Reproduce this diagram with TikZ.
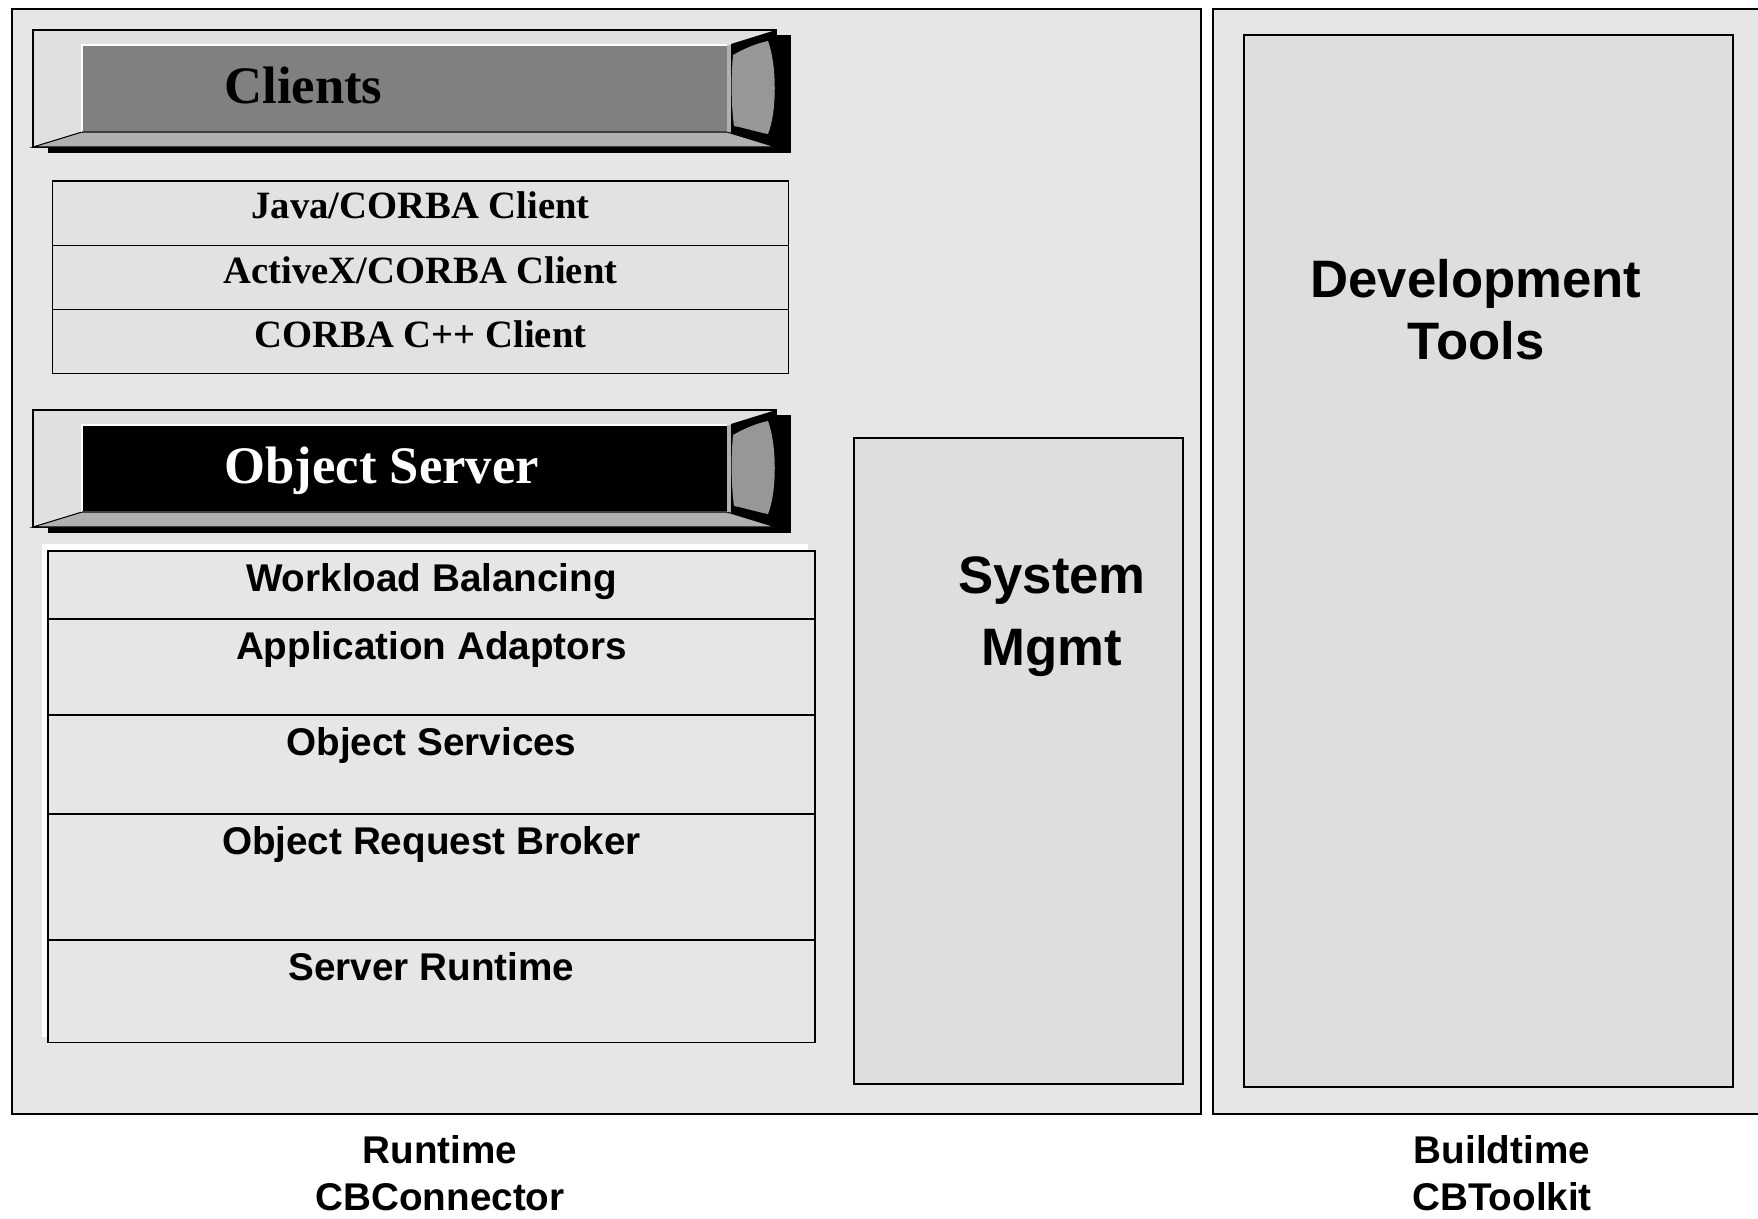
\documentclass[tikz,border=0pt]{standalone}
\usepackage{fontspec}
\setmainfont{Liberation Serif}
\setsansfont{Liberation Sans}
\usetikzlibrary{positioning,fit}
\definecolor{panelfill}{HTML}{E6E6E6}
\definecolor{toolfill}{HTML}{DEDEDE}
\definecolor{rowfill}{HTML}{E2E2E2}
\definecolor{framefill}{HTML}{E0E0E0}
\definecolor{facegray}{HTML}{808080}
\definecolor{bevelgray}{HTML}{B0B0B0}
\definecolor{capgray}{HTML}{979797}
\definecolor{edgegray}{HTML}{404040}

\begin{document}
\begin{tikzpicture}[
  x=0.02cm, y=-0.02cm,
  panel/.style={draw=black, line width=1.3pt, fill=panelfill, inner sep=0pt},
  inset/.style={draw=black, line width=1.2pt, fill=toolfill, inner sep=0pt},
  clientrow/.style={draw=black, line width=0.6pt, fill=rowfill, inner sep=0pt, outer sep=0pt,
    minimum width=14.74cm, text height=21.6pt, text depth=15pt,
    font=\fontsize{22}{26}\selectfont\bfseries},
  srvrow/.style={draw=black, line width=0.8pt, fill=panelfill, inner sep=0pt, outer sep=0pt,
    minimum width=15.34cm, text height=23.3pt, text depth=#1,
    font=\fontsize{22}{26}\selectfont\sffamily\bfseries},
  biglabel/.style={font=\fontsize{30}{#1}\selectfont\sffamily\bfseries, align=center,
    inner sep=0pt, anchor=north},
  caption/.style={font=\fontsize{22}{#1}\selectfont\sffamily\bfseries, align=center,
    inner sep=0pt, anchor=north},
  banner/.style={font=\fontsize{30}{36}\selectfont\bfseries, anchor=base west, inner sep=0pt}
]
  \clip (0,0) rectangle (1758,1218);

  % runtime and buildtime panels
  \node[panel, fit={(12,9) (1201,1114)}] (runtime) {};
  \node[panel, fit={(1213,9) (1775,1114)}] (buildtime) {};
  \node[inset, fit={(854,438) (1183,1084)}] (sysmgmt) {};
  \node[inset, fit={(1244,35) (1733,1087)}] (devtools) {};

  % the two banners
  \foreach \dy/\face/\ink/\txt/\nm in {0/facegray/black/Clients/clients,
      380/black/white/Object Server/server}{
    \fill[black] (48,{35+\dy}) rectangle (791,{153+\dy});
    \draw[fill=framefill, line width=0.6pt] (33,{30+\dy}) rectangle (776,{147+\dy});
    \draw[fill=bevelgray, line width=0.6pt] (33,{147+\dy}) -- (82,{132+\dy})
      -- (727,{132+\dy}) -- (776,{147+\dy}) -- cycle;
    \fill[\face] (82,{45+\dy}) rectangle (727,{132+\dy});
    \draw[white, line width=0.8pt] (82,{132+\dy}) |- (727,{45+\dy});
    \draw[edgegray, line width=0.8pt] (82,{132+\dy}) -- (727,{132+\dy});
    \fill[bevelgray] (727,{45+\dy}) rectangle (731,{132+\dy});
    \fill[black] (731,{44+\dy}) -- (776,{30+\dy}) -- (776,{147+\dy}) -- (731,{133+\dy}) -- cycle;
    \fill[capgray] (733,{55+\dy}) .. controls (745,{48+\dy}) and (758,{43+\dy}) .. (768,{41+\dy})
      .. controls (777,{65+\dy}) and (777,{112+\dy}) .. (768,{134+\dy})
      .. controls (757,{132+\dy}) and (745,{128+\dy}) .. (734,{126+\dy})
      .. controls (731,{104+\dy}) and (731,{77+\dy}) .. (733,{55+\dy}) -- cycle;
    \node[banner, text=\ink] (\nm) at (224,{103+\dy}) {\txt};
  }

  % client rows
  \node[clientrow, anchor=north] (java) at (420.5,181) {Java/CORBA Client};
  \node[clientrow, below=0pt of java] (activex) {ActiveX/CORBA Client};
  \node[clientrow, below=0pt of activex] (cpp) {CORBA C++ Client};

  % server stack
  \fill[white] (42,544) rectangle (808,1037);
  \node[srvrow=15.4pt, anchor=north] (workload) at (431.5,551) {Workload Balancing};
  \node[srvrow=31.3pt, below=0pt of workload] (adaptors) {Application Adaptors};
  \node[srvrow=33pt, below=0pt of adaptors] (services) {Object Services};
  \node[srvrow=48.4pt, below=0pt of services] (orb) {Object Request Broker};
  \node[srvrow=35.3pt, below=0pt of orb] (srvruntime) {Server Runtime};

  % labels
  \node[biglabel=41pt] (syslabel) at (1052,556) {System\\Mgmt};
  \node[biglabel=35.3pt] (devlabel) at (1476,259) {Development\\Tools};
  \node[caption=26.7pt] (runlabel) at (440,1135) {Runtime\\CBConnector};
  \node[caption=26.7pt] (buildlabel) at (1502,1135) {Buildtime\\CBToolkit};
\end{tikzpicture}
\end{document}
